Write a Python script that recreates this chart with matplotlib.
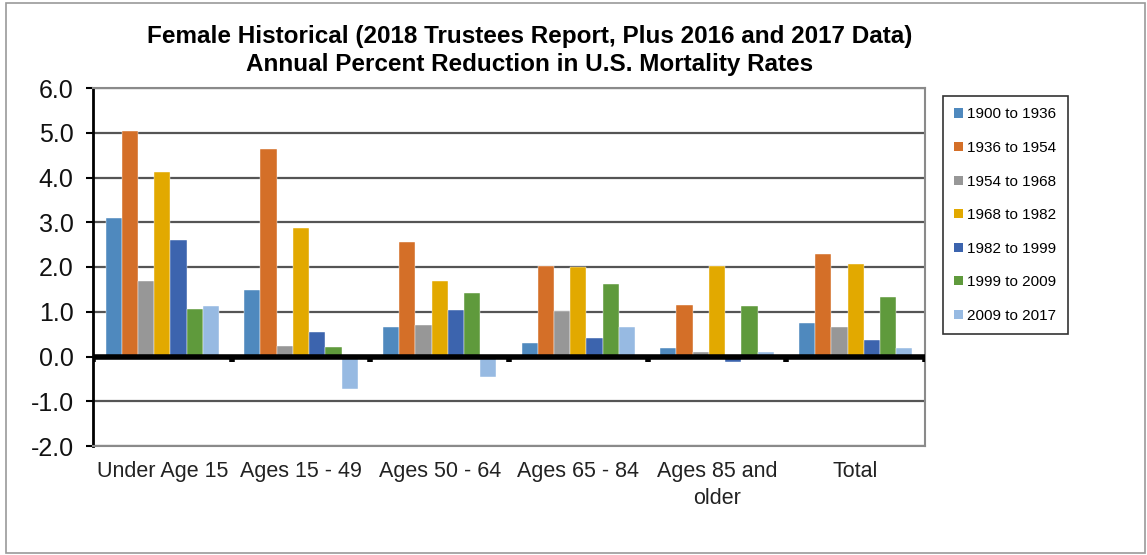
import numpy as np
import matplotlib
matplotlib.use("Agg")
import matplotlib.pyplot as plt
from matplotlib.patches import Patch, Rectangle

plt.rcParams['font.family'] = ['Liberation Sans', 'DejaVu Sans']

categories = ["Under Age 15", "Ages 15 - 49", "Ages 50 - 64", "Ages 65 - 84",
              "Ages 85 and\nolder", "Total"]
periods = ["1900 to 1936", "1936 to 1954", "1954 to 1968", "1968 to 1982",
           "1982 to 1999", "1999 to 2009", "2009 to 2017"]

p1900_1936 = [3.10, 1.48, 0.65, 0.31, 0.19, 0.75]
p1936_1954 = [5.03, 4.64, 2.55, 2.02, 1.16, 2.28]
p1954_1968 = [1.69, 0.24, 0.71, 1.01, 0.10, 0.65]
p1968_1982 = [4.12, 2.88, 1.69, 1.99, 2.02, 2.07]
p1982_1999 = [2.61, 0.54, 1.04, 0.42, -0.13, 0.37]
p1999_2009 = [1.06, 0.21, 1.42, 1.63, 1.13, 1.33]
p2009_2017 = [1.13, -0.72, -0.45, 0.65, 0.10, 0.19]

series = [p1900_1936, p1936_1954, p1954_1968, p1968_1982,
          p1982_1999, p1999_2009, p2009_2017]
colors = ["#4F89BE", "#D46F28", "#979797", "#E2A900",
          "#3C64AE", "#5F9A3C", "#97BAE2"]

fig = plt.figure(figsize=(11.47, 5.55), dpi=100)
ax = fig.add_axes([93 / 1147, 1 - 446 / 555, 832 / 1147, 358 / 555])

x = np.arange(len(categories))
bw = 0.117
for i, (vals, c) in enumerate(zip(series, colors)):
    ax.bar(x + (i - 3) * bw, vals, width=bw, color=c, zorder=3,
           edgecolor="white", linewidth=0.3)

ax.set_xlim(-0.5, len(categories) - 0.5)
ax.set_ylim(-2, 6)
ax.set_yticks(np.arange(-2, 7, 1))
ax.set_yticklabels([f"{v:.1f}" for v in np.arange(-2, 7, 1)], fontsize=18,
                   color="#111111")
ax.yaxis.grid(True, color="#555555", linewidth=1.6, zorder=1)
ax.set_axisbelow(True)

ax.set_xticks(x)
ax.set_xticklabels(categories, fontsize=15.5, color="#222222", linespacing=1.35)
ax.tick_params(axis="x", length=0, pad=11)
ax.tick_params(axis="y", length=5, width=1.5, color="black", pad=9)

for s in ["top", "right", "bottom"]:
    ax.spines[s].set_color("#8a8a8a")
    ax.spines[s].set_linewidth(1.5)
ax.spines["left"].set_color("black")
ax.spines["left"].set_linewidth(2)

# x axis drawn at zero, with category divider ticks
ax.axhline(0, color="black", linewidth=4, zorder=4)
ax.vlines(np.arange(-0.5, len(categories), 1), -0.12, 0, color="black",
          linewidth=4, zorder=4)

fig.text(0.462, 1 - 36 / 555, "Female Historical (2018 Trustees Report, Plus 2016 and 2017 Data)",
         ha="center", va="center", fontsize=17.5, fontweight="bold")
fig.text(0.462, 1 - 65 / 555, "Annual Percent Reduction in U.S. Mortality Rates",
         ha="center", va="center", fontsize=17.5, fontweight="bold")

handles = [Patch(facecolor=c, edgecolor="none") for c in colors]
leg = fig.legend(handles, periods, loc="upper left",
                 bbox_to_anchor=(943 / 1147, 1 - 96 / 555),
                 bbox_transform=fig.transFigure, borderaxespad=0,
                 fontsize=11, handlelength=0.55, handleheight=0.55,
                 handletextpad=0.3, labelspacing=1.28, borderpad=0.75,
                 fancybox=False, frameon=True)
leg.get_frame().set_edgecolor("black")
leg.get_frame().set_linewidth(1.2)

fig.patches.append(Rectangle((6 / 1147, 2 / 555), 1139 / 1147, 550 / 555,
                             transform=fig.transFigure, fill=False,
                             edgecolor="#9a9a9a", linewidth=1.2))

fig.savefig("out.png", dpi=100)
